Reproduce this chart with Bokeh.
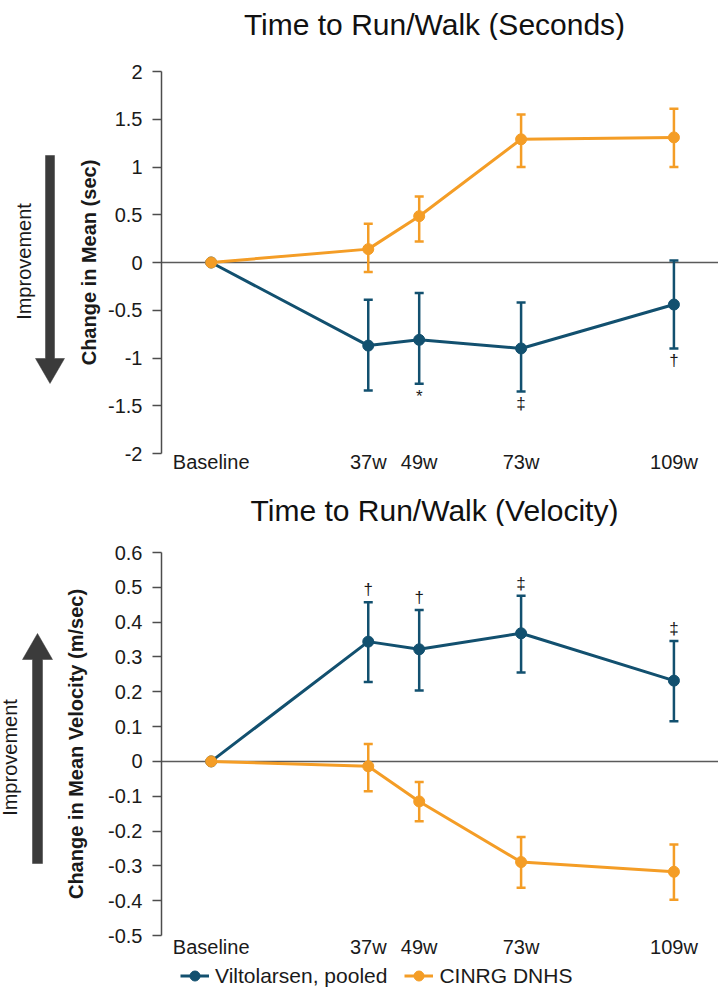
from math import pi
from bokeh.plotting import figure
from bokeh.models import (ColumnDataSource, Whisker, TeeHead, Span, FixedTicker, Range1d,
                          Legend, LegendItem)
from bokeh.layouts import column, row
from bokeh.embed import file_html
from bokeh.resources import INLINE
from bokeh.core.properties import value

# ---------------- data ----------------
weeks = [0, 37, 49, 73, 109]
week_labels = ["Baseline", "37w", "49w", "73w", "109w"]
followup = weeks[1:]

# Time to Run/Walk (Seconds): change in mean (sec)
sec_vilto = [0, -0.87, -0.81, -0.90, -0.44]
sec_vilto_hi = [-0.39, -0.32, -0.42, 0.02]
sec_vilto_lo = [-1.34, -1.27, -1.35, -0.90]
sec_cinrg = [0, 0.14, 0.485, 1.29, 1.31]
sec_cinrg_hi = [0.405, 0.69, 1.55, 1.61]
sec_cinrg_lo = [-0.10, 0.22, 1.00, 1.00]
sec_marks = ["", "*", "\u2021", "\u2020"]
sec_ticks = [-2, -1.5, -1, -0.5, 0, 0.5, 1, 1.5, 2]
sec_tick_labels = ["-2", "-1.5", "-1", "-0.5", "0", "0.5", "1", "1.5", "2"]

# Time to Run/Walk (Velocity): change in mean velocity (m/sec)
vel_vilto = [0, 0.344, 0.322, 0.368, 0.232]
vel_vilto_hi = [0.457, 0.435, 0.476, 0.346]
vel_vilto_lo = [0.228, 0.204, 0.255, 0.115]
vel_cinrg = [0, -0.014, -0.115, -0.289, -0.317]
vel_cinrg_hi = [0.050, -0.059, -0.217, -0.239]
vel_cinrg_lo = [-0.086, -0.172, -0.363, -0.397]
vel_marks = ["\u2020", "\u2020", "\u2021", "\u2021"]
vel_ticks = [-0.5, -0.4, -0.3, -0.2, -0.1, 0, 0.1, 0.2, 0.3, 0.4, 0.5, 0.6]
vel_tick_labels = ["-0.5", "-0.4", "-0.3", "-0.2", "-0.1", "0", "0.1", "0.2", "0.3", "0.4", "0.5", "0.6"]

series_names = ["Viltolarsen, pooled", "CINRG DNHS"]
titles = ["Time to Run/Walk (Seconds)", "Time to Run/Walk (Velocity)"]

# ---------------- style ----------------
FONT = "Liberation Sans"
BLUE = "#12506f"
ORANGE = "#f49d26"
DARK = "#3b3b3b"
AXIS = "#4d4d4d"
TXT = "#1a1a1a"
PAGE_W = 718
FRAME_L = 161
XR = (-11.7, 119.5)


def strip(height):
    """Plain full-width figure in pixel coordinates (y measured downward)."""
    f = figure(width=PAGE_W, height=height, x_range=Range1d(0, PAGE_W),
               y_range=Range1d(height, 0), output_backend="svg", toolbar_location=None,
               x_axis_location=None, y_axis_location=None, min_border=0,
               outline_line_color=None, background_fill_color="white",
               border_fill_color="white")
    f.grid.visible = False
    return f


def title_strip(height, text, cx, baseline):
    f = strip(height)
    f.text([cx], [baseline], text=[text], text_font=value(FONT), text_font_size="30px",
           text_color="#111111", text_align="center", text_baseline="alphabetic")
    return f


def side_panel(width, height, top, frame_h, bottom_border, shaft_x, shaft_w, tail_y, tip_y,
               head_len, head_w, txt_x, txt_y):
    """Narrow figure left of the axis holding the 'Improvement' arrow (pixel coords,
    y measured downward from the top of the figure)."""
    s = figure(width=width, height=height, x_range=Range1d(0, width),
               y_range=Range1d(top + frame_h, top), output_backend="svg",
               toolbar_location=None, x_axis_location=None, y_axis_location=None,
               min_border_left=0, min_border_right=0, min_border_top=top,
               min_border_bottom=bottom_border, outline_line_color=None,
               background_fill_color="white", border_fill_color="white")
    s.grid.visible = False
    d = 1 if tip_y > tail_y else -1
    base = tip_y - d * head_len
    hx, hw = shaft_w / 2, head_w / 2
    xs = [shaft_x - hx, shaft_x - hx, shaft_x - hw, shaft_x, shaft_x + hw,
          shaft_x + hx, shaft_x + hx]
    ys = [tail_y, base, base, tip_y, base, base, tail_y]
    s.patch(xs, ys, fill_color=DARK, line_color=DARK, line_width=0.5)
    s.text([txt_x], [txt_y], text=["Improvement"], angle=pi / 2,
           text_font=value(FONT), text_font_size="20px", text_color=TXT,
           text_align="center", text_baseline="middle")
    return s


def make_panel(left_w, fig_h, top, frame_h, y0, y1, ticks, tick_labels, ylabel,
               ylabel_standoff, xlab_standoff,
               vilto, vhi, vlo, cinrg, chi, clo, marks, marks_below, bottom_border):
    p = figure(width=PAGE_W - left_w, height=fig_h,
               x_range=Range1d(*XR), y_range=Range1d(y0, y1),
               output_backend="svg", toolbar_location=None,
               min_border_left=FRAME_L - left_w, min_border_right=0,
               min_border_top=top, min_border_bottom=bottom_border,
               outline_line_color=None, background_fill_color="white",
               border_fill_color="white")
    p.grid.visible = False

    # x axis
    xa = p.xaxis[0]
    xa.ticker = FixedTicker(ticks=weeks)
    xa.major_label_overrides = dict(zip(weeks, week_labels))
    xa.axis_line_color = None
    xa.major_tick_line_color = None
    xa.minor_tick_line_color = None
    xa.major_tick_out = 0
    xa.major_tick_in = 0
    xa.major_label_standoff = xlab_standoff
    xa.major_label_text_font = FONT
    xa.major_label_text_font_size = "20px"
    xa.major_label_text_color = TXT

    # y axis
    ya = p.yaxis[0]
    ya.ticker = FixedTicker(ticks=ticks)
    ya.major_label_overrides = dict(zip(ticks, tick_labels))
    ya.axis_line_color = AXIS
    ya.axis_line_width = 1.5
    ya.major_tick_line_color = AXIS
    ya.major_tick_line_width = 1.5
    ya.major_tick_out = 9
    ya.major_tick_in = 0
    ya.minor_tick_line_color = None
    ya.major_label_standoff = 10
    ya.major_label_text_font = FONT
    ya.major_label_text_font_size = "20px"
    ya.major_label_text_color = TXT
    ya.axis_label = ylabel
    ya.axis_label_text_font = FONT
    ya.axis_label_text_font_style = "bold"
    ya.axis_label_text_font_size = "20px"
    ya.axis_label_text_color = TXT
    ya.axis_label_standoff = ylabel_standoff

    p.add_layout(Span(location=0, dimension="width", line_color="#5a5a5a",
                      line_width=1.5, level="underlay"))

    renderers = []
    for vals, hi, lo, col in ((vilto, vhi, vlo, BLUE), (cinrg, chi, clo, ORANGE)):
        wsrc = ColumnDataSource(dict(x=followup, upper=hi, lower=lo))
        p.add_layout(Whisker(source=wsrc, base="x", upper="upper", lower="lower",
                             dimension="height", line_color=col, line_width=2.5,
                             upper_head=TeeHead(size=9, line_color=col, line_width=2.5),
                             lower_head=TeeHead(size=9, line_color=col, line_width=2.5)))
        src = ColumnDataSource(dict(x=weeks, y=vals))
        ln = p.line("x", "y", source=src, line_color=col, line_width=3)
        sc = p.scatter("x", "y", source=src, size=11, fill_color=col, line_color=col)
        renderers.append((ln, sc))

    # significance marks for viltolarsen
    msrc = ColumnDataSource(dict(x=followup, y=(vlo if marks_below else vhi), t=marks))
    p.text("x", "y", text="t", source=msrc, text_font=value(FONT),
           text_font_size="17px", text_color=TXT, text_align="center",
           text_baseline=("top" if marks_below else "bottom"),
           y_offset=(3 if marks_below else -3))
    return p, renderers


# ---- top title (page y 0..40) ----
TT_H = 40
t1 = title_strip(TT_H, titles[0], 434, 24)

# ---- top panel (page y 40..486) ----
TOP_H, TOP_T, TOP_FH = 486 - TT_H, 71 - TT_H, 382
TOP_B = TOP_H - TOP_T - TOP_FH
TOP_LEFT_W = 66
s1 = side_panel(TOP_LEFT_W, TOP_H, TOP_T, TOP_FH, TOP_B,
                49.5, 9, 155 - TT_H, 383 - TT_H, 25, 29, 23, 261 - TT_H)
p1, _ = make_panel(TOP_LEFT_W, TOP_H, TOP_T, TOP_FH, -2, 2, sec_ticks, sec_tick_labels,
                   "Change in Mean (sec)", 5, -3,
                   sec_vilto, sec_vilto_hi, sec_vilto_lo,
                   sec_cinrg, sec_cinrg_hi, sec_cinrg_lo, sec_marks, True, TOP_B)

# ---- bottom title (page y 486..526) ----
BT_H = 40
t2 = title_strip(BT_H, titles[1], 434, 24)

# ---- bottom panel (page y 526..963) ----
LEG_H = 25
BOT_H, BOT_T, BOT_FH = 988 - 526 - LEG_H, 552 - 526, 383
BOT_B = BOT_H - BOT_T - BOT_FH
BOT_LEFT_W = 58
s2 = side_panel(BOT_LEFT_W, BOT_H, BOT_T, BOT_FH, BOT_B,
                37, 10, 863 - 526, 633 - 526, 26, 30, 9.5, 757 - 526)
p2, rends = make_panel(BOT_LEFT_W, BOT_H, BOT_T, BOT_FH, -0.5, 0.6, vel_ticks,
                       vel_tick_labels, "Change in Mean Velocity (m/sec)", 18, 0,
                       vel_vilto, vel_vilto_hi, vel_vilto_lo,
                       vel_cinrg, vel_cinrg_hi, vel_cinrg_lo, vel_marks, False, BOT_B)

# ---- legend strip (page y 963..988) ----
lf = strip(LEG_H)
leg_items = []
for name, col in zip(series_names, (BLUE, ORANGE)):
    # legend swatches only: kept outside the strip's visible range
    ln = lf.line(x=[-50, -40], y=[-50, -50], line_color=col, line_width=3)
    sc = lf.scatter(x=[-45], y=[-50], size=11, fill_color=col, line_color=col)
    leg_items.append(LegendItem(label=name, renderers=[ln, sc]))
legend = Legend(items=leg_items, orientation="horizontal", location=(180, 0),
                border_line_color=None, background_fill_alpha=0,
                padding=0, margin=0, spacing=17, label_standoff=6,
                glyph_width=29, glyph_height=LEG_H, label_height=LEG_H,
                label_text_font=FONT, label_text_font_size="21px",
                label_text_color=TXT)
lf.add_layout(legend)

layout = column(t1, row(s1, p1, spacing=0), t2, row(s2, p2, spacing=0), lf, spacing=0)
open("out.html", "w").write(file_html(layout, INLINE))
